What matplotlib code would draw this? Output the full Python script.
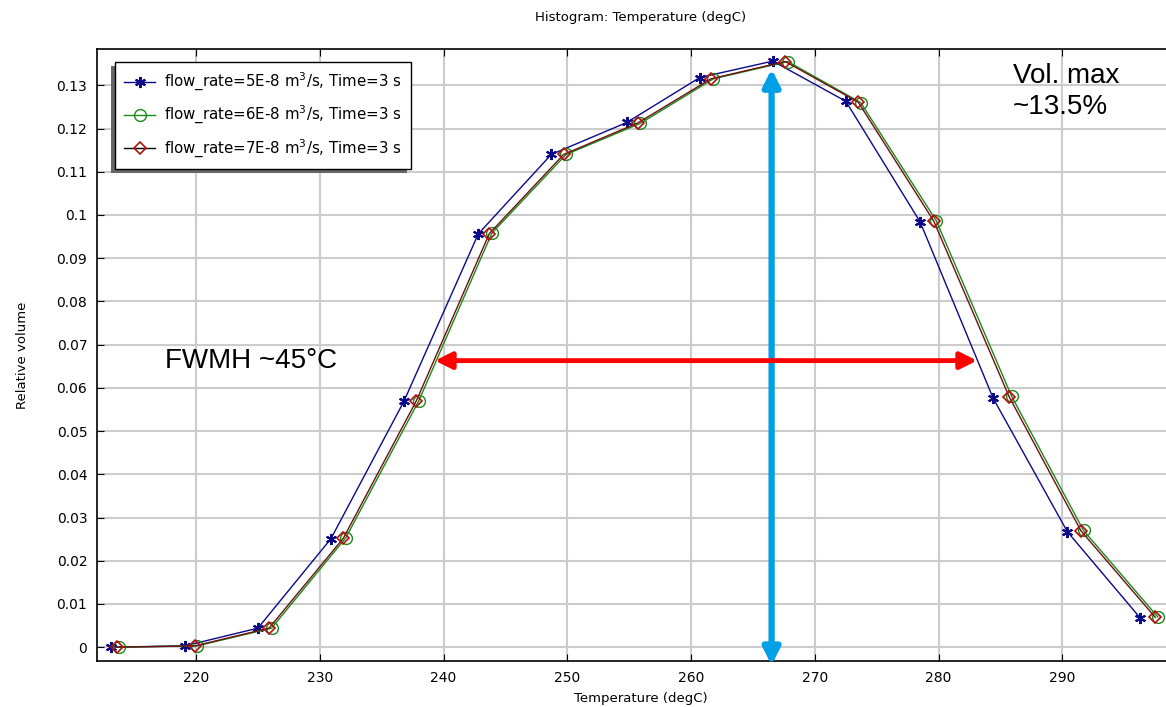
import numpy as np
import matplotlib.pyplot as plt
from matplotlib.patches import Rectangle

# Bin centres (degC) and relative volume for each flow rate
temp_5e8 = [213.1, 219.1, 225.0, 230.9, 236.8, 242.8, 248.7, 254.8, 260.7, 266.6, 272.5, 278.5, 284.4, 290.4, 296.3]
vol_5e8 = [0.0, 0.0003, 0.0044, 0.0251, 0.0569, 0.0956, 0.1140, 0.1214, 0.1318, 0.1356, 0.1263, 0.0984, 0.0576, 0.0267, 0.0067]

temp_6e8 = [213.8, 220.1, 226.1, 232.1, 238.0, 243.9, 249.9, 255.9, 261.8, 267.8, 273.7, 279.8, 285.9, 291.7, 297.7]
vol_6e8 = [0.0, 0.0003, 0.0044, 0.0253, 0.0570, 0.0958, 0.1140, 0.1212, 0.1315, 0.1355, 0.1260, 0.0987, 0.0580, 0.0270, 0.0070]

temp_7e8 = [213.6, 219.9, 225.9, 231.9, 237.8, 243.7, 249.7, 255.7, 261.6, 267.6, 273.5, 279.6, 285.7, 291.5, 297.5]
vol_7e8 = [0.0, 0.0003, 0.0044, 0.0252, 0.0570, 0.0957, 0.1140, 0.1213, 0.1315, 0.1355, 0.1261, 0.0986, 0.0579, 0.0269, 0.0069]

labels = [r'flow_rate=5E-8 m$^3$/s, Time=3 s',
          r'flow_rate=6E-8 m$^3$/s, Time=3 s',
          r'flow_rate=7E-8 m$^3$/s, Time=3 s']

# annotation positions
peak_T, peak_top, peak_bottom = 266.5, 0.1338, -0.0042
fwhm_left, fwhm_right, fwhm_y = 239.3, 283.1, 0.0663

fig = plt.figure(figsize=(11.66, 7.07), dpi=100)
ax = fig.add_axes([97 / 1166, 46 / 707, 1088 / 1166, 612 / 707])

ax.plot(temp_5e8, vol_5e8, color='#0a0a8a', lw=1.0, marker=(6, 2, 0), ms=8,
        mec='#0a0a8a', mew=1.5, label=labels[0], zorder=3)
ax.plot(temp_6e8, vol_6e8, color='#1a8a1a', lw=1.0, marker='o', ms=8.5,
        mec='#1a8a1a', mfc='none', mew=1.0, label=labels[1], zorder=3)
ax.plot(temp_7e8, vol_7e8, color='#6e1010', lw=1.0, marker='D', ms=6,
        mec='#b01010', mfc='none', mew=1.2, label=labels[2], zorder=4)

ax.set_xlim(212.0, 299.9)
ax.set_ylim(-0.0032, 0.1384)
ax.set_xticks(np.arange(220, 300, 10))
ax.set_yticks(np.arange(0, 0.131, 0.01))
ax.set_yticklabels(['0', '0.01', '0.02', '0.03', '0.04', '0.05', '0.06', '0.07',
                    '0.08', '0.09', '0.1', '0.11', '0.12', '0.13'])
ax.grid(True, color='#cccccc', lw=1.5)
ax.set_axisbelow(True)
ax.tick_params(direction='in', top=True, length=5, labelsize=10, pad=7)
for s in ax.spines.values():
    s.set_linewidth(1.2)

ax.set_title('Histogram: Temperature (degC)', fontsize=9.5, pad=20)
ax.set_xlabel('Temperature (degC)', fontsize=9.5, labelpad=5)
ax.set_ylabel('Relative volume', fontsize=9.5, labelpad=20)

leg = ax.legend(loc='upper left', bbox_to_anchor=(0.0165, 0.979), borderaxespad=0,
                fontsize=10.8, frameon=True, fancybox=False, edgecolor='black',
                facecolor='white', framealpha=1.0,
                borderpad=0.6, labelspacing=0.75, handlelength=2.1, handletextpad=0.6)
leg.get_frame().set_linewidth(1.0)
leg.set_zorder(6)
# third legend line is drawn black in the reference
leg.get_lines()[2].set_color('black')

# legend shadow offset to the lower left
fig.canvas.draw()
bb = leg.get_window_extent()
ax.add_patch(Rectangle((bb.x0 - 4, bb.y0 - 4), bb.width, bb.height, transform=None,
                       facecolor='#666666', edgecolor='none', clip_on=False, zorder=5.9))

# arrows
ax.annotate('', xy=(peak_T, peak_bottom), xytext=(peak_T, peak_top),
            annotation_clip=False,
            arrowprops=dict(arrowstyle='<|-|>', color='#00a0e6', lw=4.5,
                            mutation_scale=25, shrinkA=0, shrinkB=0), zorder=5)
ax.annotate('', xy=(fwhm_left, fwhm_y), xytext=(fwhm_right, fwhm_y),
            arrowprops=dict(arrowstyle='<|-|>', color='#ff0000', lw=3.5,
                            mutation_scale=25, shrinkA=0, shrinkB=0), zorder=5)

ax.text(217.5, fwhm_y, 'FWMH ~45°C', fontsize=20, family='Liberation Sans',
        ha='left', va='center')
ax.text(286.0, 0.1286, 'Vol. max\n~13.5%', fontsize=20, family='Liberation Sans',
        ha='left', va='center', linespacing=1.25)

fig.savefig('out.png', dpi=100)
